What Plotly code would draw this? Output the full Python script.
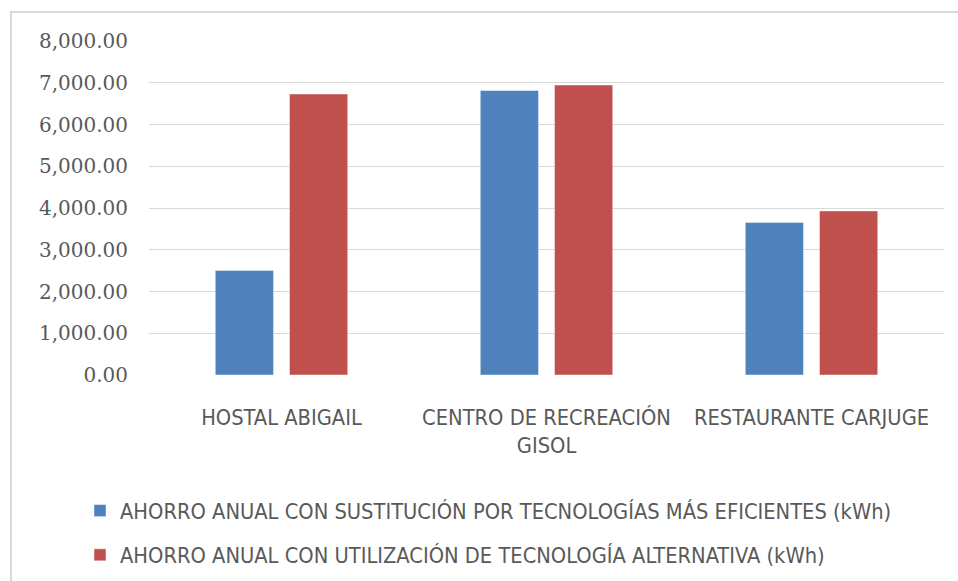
import plotly.graph_objects as go

# Establishments compared
categories = ["HOSTAL ABIGAIL", "CENTRO DE RECREACIÓN<br>GISOL", "RESTAURANTE CARJUGE"]

# Annual savings (kWh)
ahorro_sustitucion = [2505, 6815, 3655]
ahorro_alternativa = [6730, 6945, 3930]

series_names = [
    "AHORRO ANUAL CON SUSTITUCIÓN POR TECNOLOGÍAS MÁS EFICIENTES (kWh)",
    "AHORRO ANUAL CON UTILIZACIÓN DE TECNOLOGÍA ALTERNATIVA (kWh)",
]

y_ticks = [0, 1000, 2000, 3000, 4000, 5000, 6000, 7000, 8000]

BLUE = "#4F81BD"
RED = "#C0504D"
TEXT = "#595959"
GRID = "#D9D9D9"
SANS = "Liberation Sans Narrow, DejaVu Sans Condensed, Roboto Condensed, Lato, sans-serif"
SERIF = "DejaVu Serif, serif"

fig = go.Figure()
fig.add_trace(go.Bar(
    x=categories, y=ahorro_sustitucion, name=series_names[0], legendgroup="a",
    marker=dict(color=BLUE, line=dict(color="rgba(255,255,255,0.45)", width=1)),
))
fig.add_trace(go.Bar(
    x=categories, y=ahorro_alternativa, name=series_names[1], legendgroup="b",
    marker=dict(color=RED, line=dict(color="rgba(255,255,255,0.45)", width=1)),
))

L, R, T, B = 149, 14, 41, 206
W, H = 958, 581
pw, ph = W - L - R, H - T - B


def px_to_paper_x(px):
    return (px - L) / pw


def px_to_paper_y(py):
    return (H - B - py) / ph


# light outer frame of the chart area
fig.add_shape(
    type="rect", xref="paper", yref="paper",
    x0=px_to_paper_x(11), x1=px_to_paper_x(W + 5),
    y0=px_to_paper_y(H + 5), y1=px_to_paper_y(12),
    line=dict(color=GRID, width=2), fillcolor="rgba(0,0,0,0)", layer="below",
)

fig.update_layout(
    width=W, height=H,
    margin=dict(l=L, r=R, t=T, b=B, autoexpand=False),
    paper_bgcolor="white", plot_bgcolor="white",
    barmode="group", bargap=0.44, bargroupgap=0.215,
    showlegend=True,
    legend=dict(
        orientation="v", x=px_to_paper_x(80), xanchor="left",
        y=px_to_paper_y(490), yanchor="top",
        font=dict(family=SANS, size=21.7, color=TEXT),
        traceorder="grouped", tracegroupgap=13,
        bgcolor="rgba(0,0,0,0)",
    ),
    xaxis=dict(
        tickfont=dict(family=SANS, size=21.7, color=TEXT),
        showgrid=False, showline=False, zeroline=False, automargin=False,
        ticks="outside", ticklen=23, tickcolor="rgba(0,0,0,0)",
    ),
    yaxis=dict(
        range=[0, 8000], tickvals=y_ticks, tickformat=",.2f",
        tickfont=dict(family=SERIF, size=20, color=TEXT),
        showgrid=True, gridcolor=GRID, gridwidth=1.3,
        zeroline=False, showline=False, automargin=False,
        ticks="outside", ticklen=16, tickcolor="rgba(0,0,0,0)",
    ),
)

fig.write_html("out.html")
